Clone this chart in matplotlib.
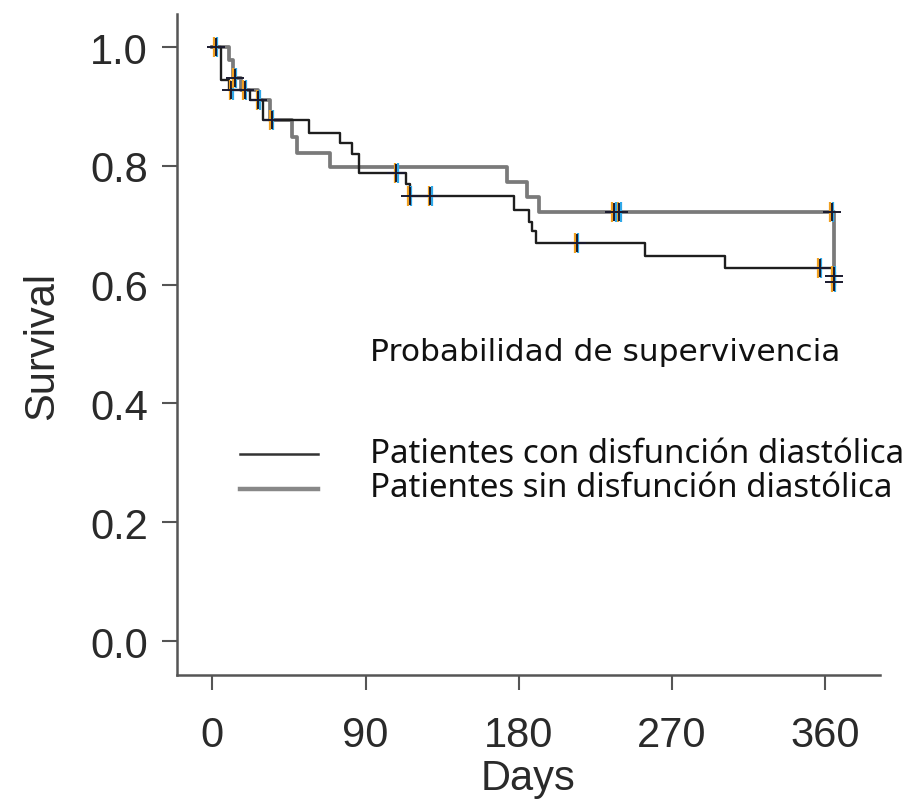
import matplotlib.pyplot as plt
from matplotlib.lines import Line2D

# Kaplan-Meier: con disfunción diastólica (negro)
con_days = [0, 5, 10, 22, 30, 57, 75, 82, 86, 114, 116, 177, 186, 188, 190, 254, 301, 365]
con_surv = [1.0, 0.945, 0.928, 0.91, 0.877, 0.855, 0.838, 0.82, 0.788, 0.77, 0.75,
            0.726, 0.705, 0.69, 0.67, 0.649, 0.628, 0.628]
con_cens_days = [2, 11, 27, 108, 116, 128, 214, 357]
con_cens_surv = [1.0, 0.928, 0.91, 0.788, 0.75, 0.75, 0.67, 0.628]

# sin disfunción diastólica (gris)
sin_days = [0, 10, 12, 17, 27, 34, 47, 50, 69, 173, 185, 192, 365, 365]
sin_surv = [1.0, 0.978, 0.948, 0.928, 0.91, 0.877, 0.848, 0.821, 0.798,
            0.773, 0.747, 0.722, 0.615, 0.604]
sin_cens_days = [13, 19, 35, 236, 239, 364, 365, 365]
sin_cens_surv = [0.948, 0.928, 0.877, 0.722, 0.722, 0.722, 0.615, 0.604]

x_ticks = [0, 90, 180, 270, 360]
y_ticks = [0.0, 0.2, 0.4, 0.6, 0.8, 1.0]

W, H = 907, 803
fig = plt.figure(figsize=(W / 100, H / 100), dpi=100)
ax = fig.add_axes([177 / W, 1 - 676 / H, (880 - 177) / W, (676 - 15) / H])

ax.plot(sin_days, sin_surv, drawstyle='steps-post', color='#7a7a7a', lw=2.7)
ax.plot(con_days, con_surv, drawstyle='steps-post', color='#1e1e1e', lw=1.7)

# marcas de censura (con el halo naranja/azul de la imagen)
for d, s in [(con_cens_days, con_cens_surv), (sin_cens_days, sin_cens_surv)]:
    ax.plot([v - 0.9 for v in d], s, ls='none', marker='|', ms=14, mew=1.6, color='#f0a020')
    ax.plot([v + 0.9 for v in d], s, ls='none', marker='|', ms=14, mew=1.6, color='#30a8e8')
    ax.plot(d, s, ls='none', marker='+', ms=13, mew=1.4, color='#1a1a2e')

ax.set_xlim(-20.8, 392.3)
ax.set_ylim(-0.0572, 1.0556)
ax.set_xticks(x_ticks)
ax.set_yticks(y_ticks)
ax.set_yticklabels([f'{v:.1f}' for v in y_ticks])

for side in ['top', 'right']:
    ax.spines[side].set_visible(False)
for side in ['left', 'bottom']:
    ax.spines[side].set_color('#555555')
    ax.spines[side].set_linewidth(1.8)

tick_font = {'family': 'Liberation Sans', 'size': 30, 'color': '#2a2a2a'}
ax.tick_params(axis='both', direction='out', length=11, width=1.5, color='#555555',
               labelsize=30, labelcolor='#2a2a2a')
ax.tick_params(axis='y', pad=10)
ax.tick_params(axis='x', pad=18)
for lab in ax.get_xticklabels() + ax.get_yticklabels():
    lab.set_family('Liberation Sans')

ax.set_xlabel('Days', fontdict=tick_font, labelpad=2)
ax.set_ylabel('Survival', fontdict=tick_font, labelpad=20)

# leyenda
fig.text(370 / W, 1 - 353 / H, 'Probabilidad de supervivencia', family='DejaVu Sans',
         fontsize=22.5, va='center', ha='left', color='#111111')
fig.text(370 / W, 1 - 455 / H, 'Patientes con disfunción diastólica', family='Noto Sans',
         fontsize=23.8, va='center', ha='left', color='#111111')
fig.text(370 / W, 1 - 489 / H, 'Patientes sin disfunción diastólica', family='Noto Sans',
         fontsize=23.8, va='center', ha='left', color='#111111')
fig.add_artist(Line2D([240 / W, 318 / W], [1 - 455 / H, 1 - 455 / H], color='#333333', lw=1.8))
fig.add_artist(Line2D([240 / W, 318 / W], [1 - 490 / H, 1 - 490 / H], color='#888888', lw=3.2))

fig.savefig('out.png', dpi=100, facecolor='white')
